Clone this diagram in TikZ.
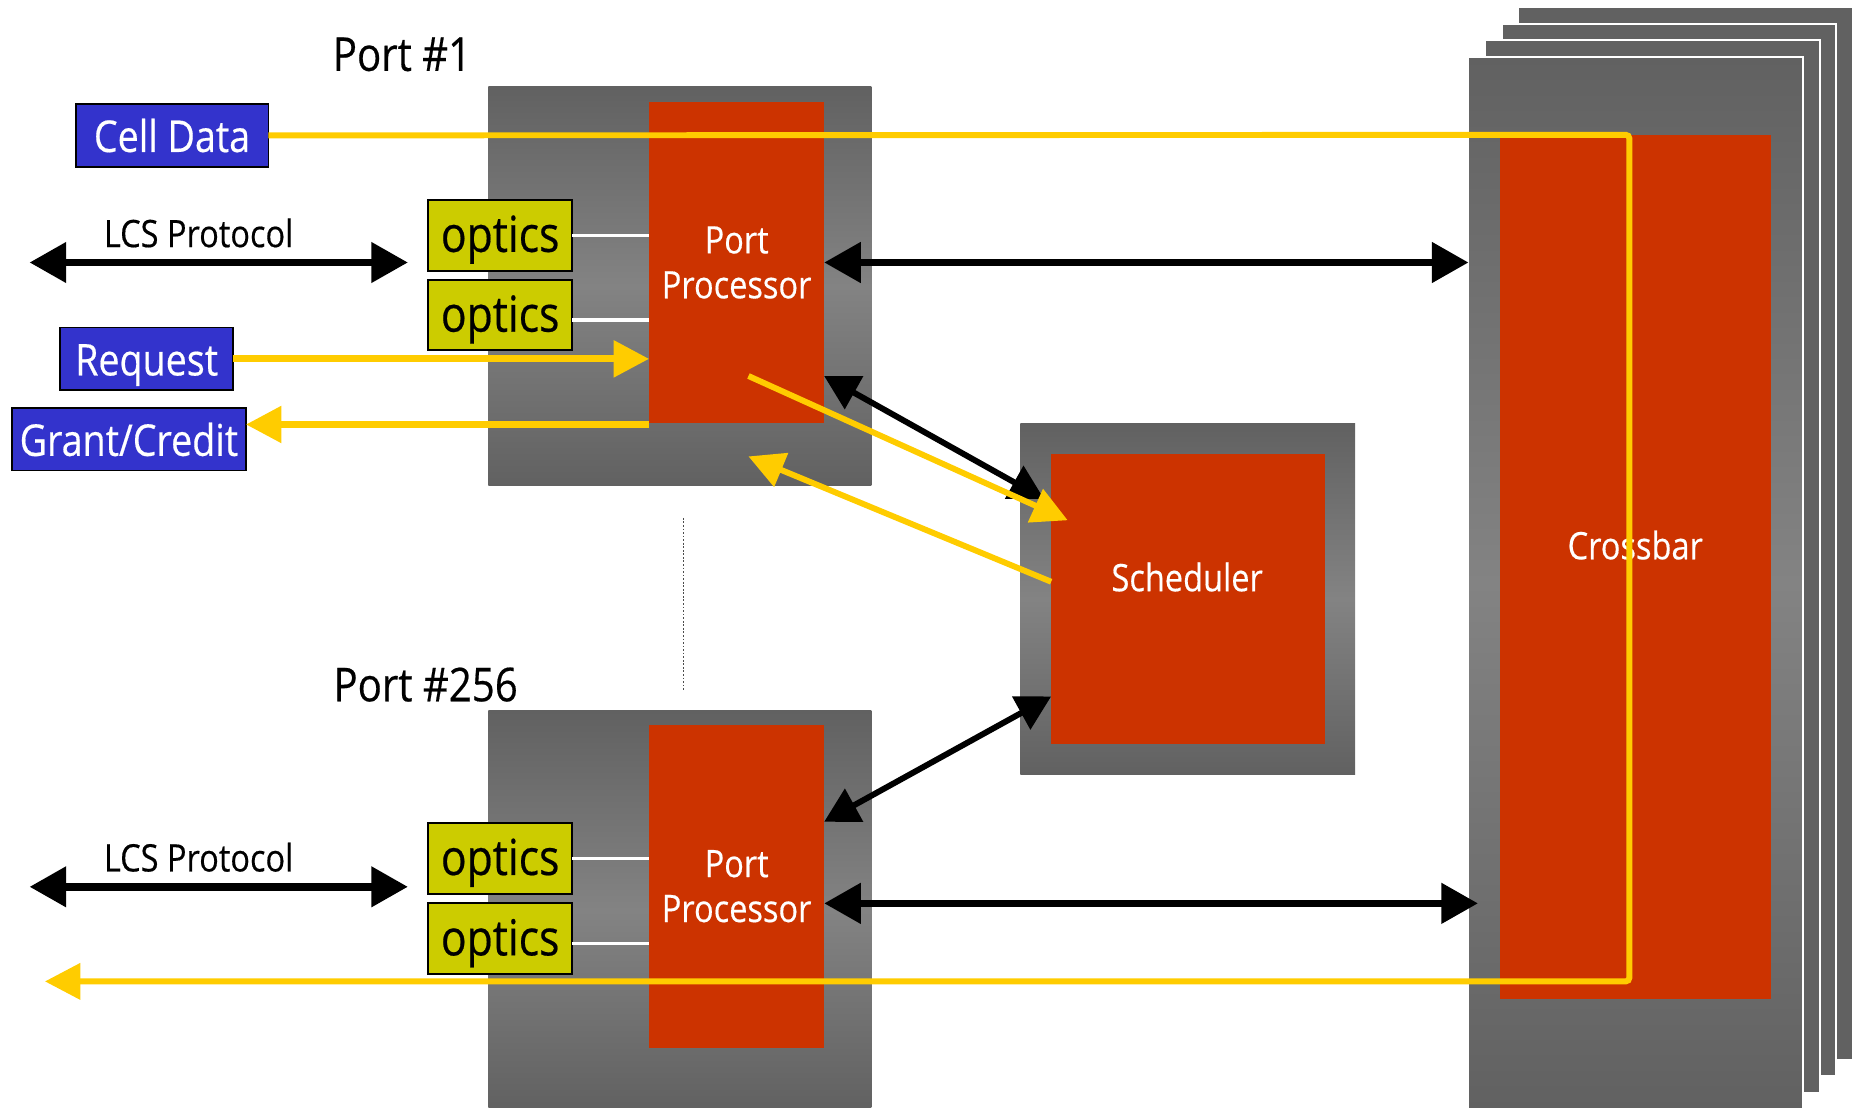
\documentclass[tikz,border=0pt]{standalone}
\usepackage{fontspec}
\setmainfont{Open Sans}[FakeStretch=0.86, FakeBold=0.4]
\usetikzlibrary{arrows.meta}

\definecolor{procred}{HTML}{CC3300}
\definecolor{sigyellow}{HTML}{FFCC00}
\definecolor{msgblue}{HTML}{3333CC}
\definecolor{optyellow}{HTML}{CCCC00}
\definecolor{gdark}{HTML}{616161}
\definecolor{glight}{HTML}{838383}

\newcommand\bigtxt{\fontsize{37}{40}\selectfont}
\newcommand\porttxt{\fontsize{39.5}{42}\selectfont}
\newcommand\opttxt{\fontsize{42}{44}\selectfont}
\newcommand\medtxt{\fontsize{32}{38}\selectfont}
\newcommand\smalltxt{\fontsize{32}{34}\selectfont}

\tikzset{
  chassis/.style={shade, top color=gdark, bottom color=gdark, middle color=glight,
    draw=none, inner sep=0pt, outer sep=0pt},
  layer/.style={fill=gdark, draw=white, line width=1.5pt, inner sep=0pt, outer sep=0pt},
  procbox/.style={fill=procred, draw=none, inner sep=0pt, outer sep=0pt,
    text=white, font=\medtxt, align=center},
  msgbox/.style={fill=msgblue, draw=black, line width=1.5pt, inner sep=0pt, outer sep=0pt,
    text=white, font=\bigtxt, text height=31pt, text depth=3pt},
  opticsbox/.style={fill=optyellow, draw=black, line width=1.5pt, inner sep=0pt, outer sep=0pt,
    text=black, font=\opttxt, text height=33pt, text depth=5pt},
  caption/.style={font=\porttxt, inner sep=0pt},
  smallcaption/.style={font=\smalltxt, inner sep=0pt},
  inlabel/.style={font=\medtxt, text=white, inner sep=0pt},
  fiber/.style={draw=white, line width=3pt},
  bus/.style={draw=black, line width=6.5pt,
    {Triangle[length=31pt,width=33pt]}-{Triangle[length=31pt,width=33pt]}},
  ctrl/.style={draw=black, line width=5pt,
    {Triangle[length=29pt,width=31pt]}-{Triangle[length=29pt,width=31pt]}},
  flow/.style={draw=sigyellow, line width=6pt, -{Triangle[length=30pt,width=30pt]}},
  diagflow/.style={draw=sigyellow, line width=5pt, -{Triangle[length=30pt,width=30pt]}},
  celltrack/.style={draw=sigyellow, line width=5pt, rounded corners=3pt,
    -{Triangle[length=30pt,width=30pt]}},
}

\begin{document}
\begin{tikzpicture}[x=1pt, y=-1pt]
\useasboundingbox (0,0) rectangle (1568,937);
\clip (0,0) rectangle (1568,937);

% ---- crossbar stack (back planes first) ----
\node[layer, minimum width=283pt, minimum height=890pt] (plane3) at (1425.5,451) {};
\node[layer, minimum width=283pt, minimum height=890pt] (plane2) at (1411.5,465) {};
\node[layer, minimum width=283pt, minimum height=890pt] (plane1) at (1397.5,479) {};
\node[chassis, draw=white, line width=1.5pt, minimum width=283pt, minimum height=890pt] (xbarg) at (1383.5,493) {};
\node[procbox, minimum width=229pt, minimum height=731pt] (xbar) at (1383.5,479.5) {};
\node[inlabel] (xbarlbl) at (1383,461) {Crossbar};

% ---- port #1 ----
\node[chassis, minimum width=324pt, minimum height=338pt] (p1g) at (575,242) {};
\node[procbox, minimum width=148pt, minimum height=272pt] (p1r) at (623,222) {Port\\Processor};
\node[caption] (p1lbl) at (340,46) {Port \#1};

% ---- port #256 ----
\node[chassis, minimum width=324pt, minimum height=338pt] (p2g) at (575,770) {};
\node[procbox, minimum width=148pt, minimum height=273pt] (p2r) at (623,749.5) {Port\\Processor};
\node[caption] (p2lbl) at (360,579) {Port \#256};

% ---- scheduler ----
\node[chassis, minimum width=283pt, minimum height=297pt] (schg) at (1004.5,506.5) {};
\node[procbox, minimum width=232pt, minimum height=245pt] (sch) at (1005,506.5) {};
\node[inlabel] (schlbl) at (1004,488) {Scheduler};

% ---- optics modules ----
\node[opticsbox, minimum width=122pt, minimum height=60pt] (o1) at (423,199) {optics};
\node[opticsbox, minimum width=122pt, minimum height=59pt] (o2) at (423,266.5) {optics};
\node[opticsbox, minimum width=122pt, minimum height=60pt] (o3) at (423,726) {optics};
\node[opticsbox, minimum width=122pt, minimum height=60pt] (o4) at (423,794) {optics};
\draw[fiber] (o1.east) -- (o1.east -| p1r.west);
\draw[fiber] ([yshift=-4pt]o2.east) -- ([yshift=-4pt]o2.east -| p1r.west);
\draw[fiber] (o3.east) -- (o3.east -| p2r.west);
\draw[fiber] ([yshift=-4pt]o4.east) -- ([yshift=-4pt]o4.east -| p2r.west);

% ---- message boxes ----
\node[msgbox, minimum width=163pt, minimum height=53pt] (cell) at (145.5,114.5) {Cell Data};
\node[msgbox, minimum width=146pt, minimum height=53pt] (req) at (124,303.5) {Request};
\node[msgbox, minimum width=198pt, minimum height=53pt] (grant) at (109,371.5) {Grant/Credit};

% ---- elision between ports ----
\coordinate (dotA) at (578,438);
\coordinate (dotB) at (578,585);
\draw[black!70, line width=1pt, dash pattern=on 1.5pt off 1.5pt] (dotA) -- (dotB);

% ---- LCS links ----
\node[smallcaption] (lcs1) at (168,197) {LCS Protocol};
\node[smallcaption] (lcs2) at (168,725) {LCS Protocol};
\coordinate (lcs1w) at (25,222);
\coordinate (lcs1e) at (345,222);
\coordinate (lcs2w) at (25,750);
\coordinate (lcs2e) at (345,750);
\draw[bus] (lcs1w) -- (lcs1e);
\draw[bus] (lcs2w) -- (lcs2e);

% ---- data paths to the crossbar ----
\draw[bus] (p1r.east) -- (p1r.east -| xbarg.west);
\draw[bus] (p2r.east |- 0,764) -- (1250,764);

% ---- request / grant ----
\draw[flow] (req.east) -- (req.east -| p1r.west);
\draw[flow] ([yshift=-1pt]p1r.south west) -- ([yshift=-1pt]p1r.south west -| grant.east);

% ---- scheduler exchanges ----
\coordinate (ppA) at (697,318);
\coordinate (schA) at (883,422);
\draw[ctrl] (ppA) -- (schA);
\coordinate (reqS) at (633,318);
\coordinate (reqT) at (903,440);
\draw[diagflow] (reqS) -- (reqT);
\coordinate (grS) at (889,492);
\coordinate (grT) at (633,386);
\draw[diagflow] (grS) -- (grT);
\coordinate (ppB) at (697,695);
\coordinate (schB) at (889,589);
\draw[ctrl] (ppB) -- (schB);

% ---- cell path through the crossbar ----
\coordinate (turn1) at (1378,114);
\coordinate (turn2) at (1378,830);
\coordinate (cellout) at (38,830);
\draw[celltrack] (cell.east) -- (turn1) -- (turn2) -- (cellout);
\end{tikzpicture}
\end{document}
